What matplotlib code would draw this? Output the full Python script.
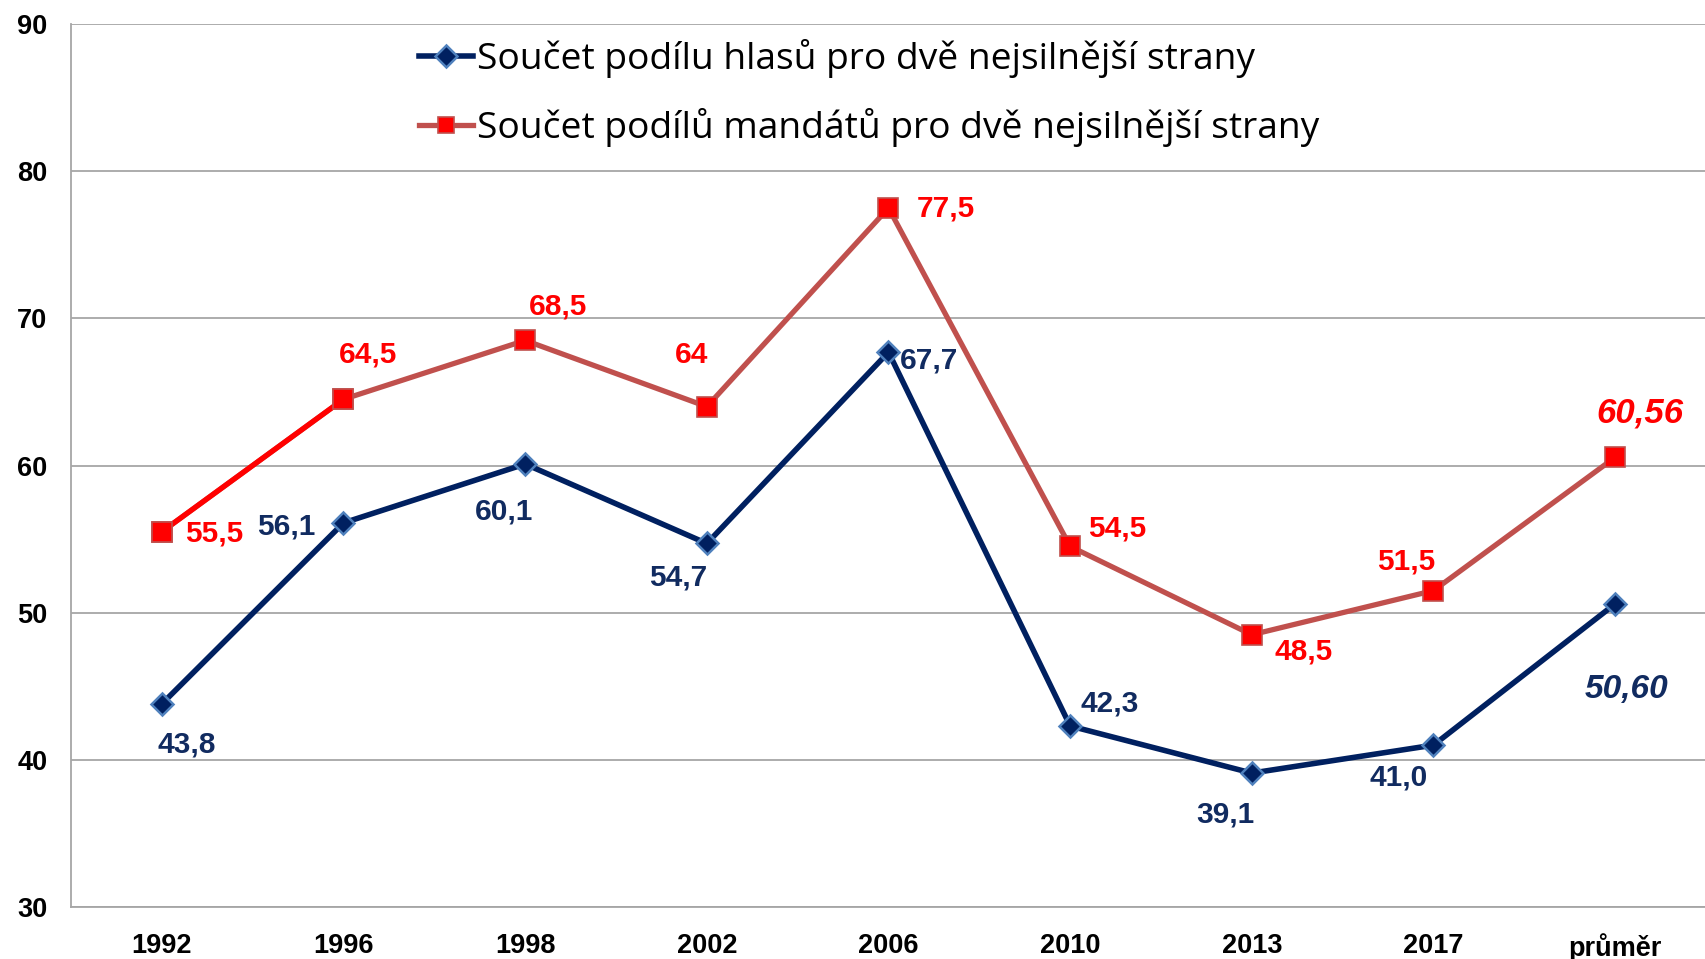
import matplotlib
matplotlib.use("Agg")
import matplotlib.pyplot as plt
import numpy as np

plt.rcParams["font.family"] = ["Liberation Sans", "DejaVu Sans"]

# data
CATEGORIES = ["1992", "1996", "1998", "2002", "2006", "2010", "2013", "2017", "průměr"]
VOTES = [43.8, 56.1, 60.1, 54.7, 67.7, 42.3, 39.1, 41.0, 50.60]
SEATS = [55.5, 64.5, 68.5, 64.0, 77.5, 54.5, 48.5, 51.5, 60.56]
VOTE_LABELS = ["43,8", "56,1", "60,1", "54,7", "67,7", "42,3", "39,1", "41,0", "50,60"]
SEAT_LABELS = ["55,5", "64,5", "68,5", "64", "77,5", "54,5", "48,5", "51,5", "60,56"]
LEGEND = ["Součet podílu hlasů pro dvě nejsilnější strany",
          "Součet podílů mandátů pro dvě nejsilnější strany"]

# label offsets in pixels (dx, dy), placed like the original
VOTE_OFFS = [(25, -41), (-57, -4), (-21, -47), (-29, -34), (41, -8),
             (40, 22), (-26, -41), (-35, -32), (11, -86)]
SEAT_OFFS = [(52, -2), (25, 45), (33, 34), (-15, 52), (57, -1),
             (47, 18), (52, -17), (-27, 29), (25, 44)]

NAVY = "#002060"
NAVY_TXT = "#112B60"
BLUE_EDGE = "#4F81BD"
BRICK = "#C0504D"
RED = "#FF0000"

fig = plt.figure(figsize=(17.06, 9.59), dpi=100)
ax = fig.add_axes([71 / 1706, 52 / 959, 1 - 71 / 1706, (907 - 24) / 959])

x = np.arange(len(CATEGORIES))
ax.plot(x, VOTES, "-", color=NAVY, lw=4, marker="D", ms=11,
        mfc=NAVY, mec=BLUE_EDGE, mew=1.8, zorder=3, label=LEGEND[0])
ax.plot(x, SEATS, "-", color=BRICK, lw=3.8, marker="s", ms=15,
        mfc=RED, mec=BRICK, mew=1.2, zorder=3, label=LEGEND[1])
# first segment of the seats line is pure red in the original
ax.plot(x[:2], SEATS[:2], "-", color=RED, lw=3.8, zorder=3.5)
ax.plot(x[:2], SEATS[:2], "s", ms=15, mfc=RED, mec=BRICK, mew=1.2, zorder=4)

for i, (v, lab, off) in enumerate(zip(VOTES, VOTE_LABELS, VOTE_OFFS)):
    last = i == len(VOTES) - 1
    ax.annotate(lab, (x[i], v), xytext=off, textcoords="offset pixels",
                ha="center", va="center", color=NAVY_TXT, fontweight="bold",
                fontsize=24 if last else 21.5, style="italic" if last else "normal")
for i, (v, lab, off) in enumerate(zip(SEATS, SEAT_LABELS, SEAT_OFFS)):
    last = i == len(SEATS) - 1
    ax.annotate(lab, (x[i], v), xytext=off, textcoords="offset pixels",
                ha="center", va="center", color=RED, fontweight="bold",
                fontsize=25 if last else 21.5, style="italic" if last else "normal")

ax.set_xlim(-0.5, len(CATEGORIES) - 0.5)
ax.set_ylim(30, 90)
ax.set_yticks(np.arange(30, 91, 10))
ax.set_xticks(x)
ax.set_xticklabels(CATEGORIES)
ax.tick_params(length=0, labelsize=19.5)
ax.tick_params(axis="y", pad=17)
ax.tick_params(axis="x", pad=19)
for t in ax.get_xticklabels() + ax.get_yticklabels():
    t.set_fontweight("bold")
ax.grid(axis="y", color="#A6A6A6", lw=1.3)
ax.set_axisbelow(True)
for s in ["top", "right"]:
    ax.spines[s].set_visible(False)
for s in ["left", "bottom"]:
    ax.spines[s].set_color("#A6A6A6")
    ax.spines[s].set_linewidth(1.3)

leg = ax.legend(loc="center left", bbox_to_anchor=(419 / 1706, 1 - 93 / 959),
                bbox_transform=fig.transFigure, frameon=False,
                prop={"family": ["Open Sans", "DejaVu Sans"], "size": 26.7},
                handlelength=1.45, handletextpad=0.12, labelspacing=0.8,
                borderpad=0, borderaxespad=0)
for h in leg.legend_handles:
    h.set_markersize(11)

fig.savefig("out.png", dpi=100)
